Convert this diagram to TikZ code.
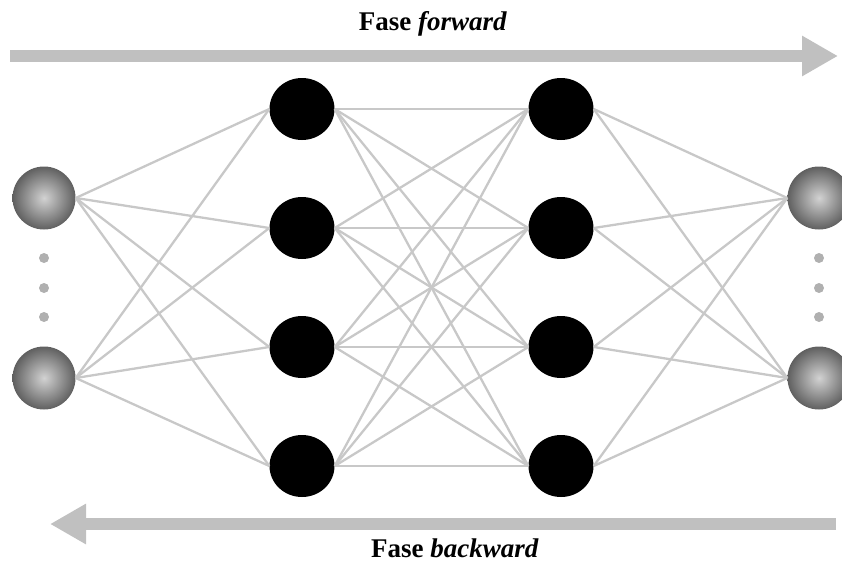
\documentclass[tikz,border=0pt]{standalone}
\usepackage{fontspec}
\setmainfont{Liberation Serif}
\usetikzlibrary{shapes.geometric,arrows.meta}
\definecolor{linkgray}{RGB}{200,200,200}
\definecolor{arrowgray}{RGB}{192,192,192}
\definecolor{dotgray}{RGB}{176,176,176}
\tikzset{
    neuron/.style={ellipse, fill=black, inner sep=0pt,
        minimum width=65pt, minimum height=62pt},
    sphere/.style={circle, inner sep=0pt, minimum size=63pt,
        shading=radial, inner color=gray!35, outer color=gray!75!black},
    link/.style={linkgray, line width=2.3pt},
    phase/.style={arrowgray, line width=12pt,
        -{Triangle[length=36pt,width=38pt]}},
    phaselabel/.style={font=\fontsize{27}{30}\selectfont\bfseries}
}

\begin{document}
\begin{tikzpicture}[x=1pt,y=-1pt]
	    \useasboundingbox (0,0) rectangle (842,562);
	    % input and output layer
	    \node[sphere] (in1) at (44,198) {};
	    \node[sphere] (in2) at (44,378) {};
	    \node[sphere] (out1) at (819,198) {};
	    \node[sphere] (out2) at (819,378) {};
	    \fill[dotgray] (44,258) circle [radius=5pt]
		      (44,288) circle [radius=5pt]
		      (44,317) circle [radius=5pt]
		      (819,258) circle [radius=5pt]
		      (819,288) circle [radius=5pt]
		      (819,317) circle [radius=5pt];
	    % hidden layers
	    \foreach \i/\y in {1/109,2/228,3/347,4/466} {
		      \node[neuron] (ha\i) at (302,\y) {};
		      \node[neuron] (hb\i) at (561,\y) {};
	    }
	    % links
	    \foreach \i in {1,2,3,4} {
		      \foreach \j in {1,2} {
			        \draw[link] (in\j.east) -- (ha\i.west);
			        \draw[link] (hb\i.east) -- (out\j.west);
		      }
		      \foreach \j in {1,2,3,4}
			        \draw[link] (ha\i.east) -- (hb\j.west);
	    }
	    % phases
	    \coordinate (fwdstart) at (10,56);
	    \coordinate (fwdend) at (838,56);
	    \coordinate (bwdstart) at (836,524);
	    \coordinate (bwdend) at (50,524);
	    \draw[phase] (fwdstart) -- (fwdend);
	    \draw[phase] (bwdstart) -- (bwdend);
	    \node[phaselabel] (fwdlabel) at (433,24) {Fase \textit{forward}};
	    \node[phaselabel] (bwdlabel) at (455,548) {Fase \textit{backward}};
	\end{tikzpicture}
\end{document}
